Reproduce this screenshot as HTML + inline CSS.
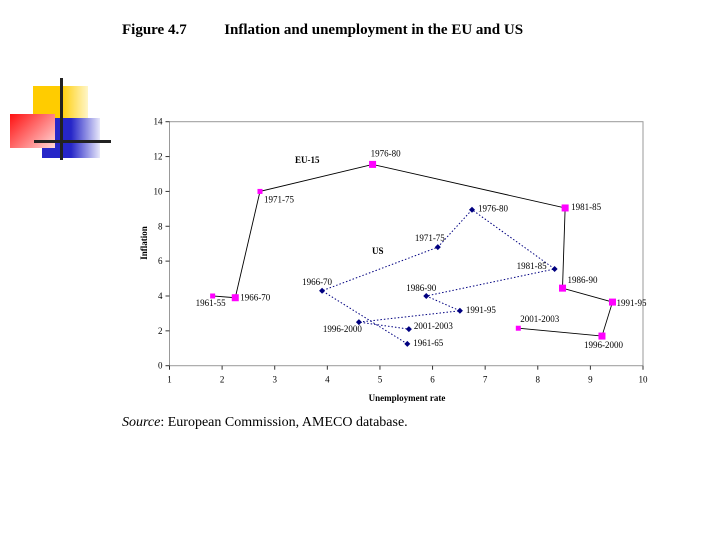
<!DOCTYPE html>
<html><head><meta charset="utf-8"><style>
html,body{margin:0;padding:0;background:#fff;width:720px;height:540px;overflow:hidden}
.t{position:absolute;font-family:"Liberation Serif",serif;color:#000;white-space:nowrap}
</style></head><body>
<div style="position:absolute;left:0;top:0">
<div style="position:absolute;left:33px;top:86px;width:55px;height:32px;background:linear-gradient(90deg,#ffcc00 50%,#fff6c8)"></div>
<div style="position:absolute;left:42px;top:118px;width:58px;height:40px;background:linear-gradient(90deg,#2626c8 50%,#e8e8fa)"></div>
<div style="position:absolute;left:10px;top:114px;width:45px;height:34px;background:linear-gradient(135deg,#ff1010,#ffd8d8)"></div>
<div style="position:absolute;left:60px;top:78px;width:3px;height:82px;background:#222"></div>
<div style="position:absolute;left:34px;top:140px;width:77px;height:3px;background:#222"></div>
</div>
<div class="t" style="left:122px;top:22px;font-size:15px;font-weight:bold">Figure 4.7&nbsp;&nbsp;&nbsp;&nbsp;&nbsp;&nbsp;&nbsp;&nbsp;&nbsp;&nbsp;Inflation and unemployment in the EU and US</div>
<div class="t" style="left:122px;top:415px;font-size:14px"><i>Source</i>: European Commission, AMECO database.</div>
<svg id="chart" width="720" height="540" style="position:absolute;left:0;top:0" font-family="Liberation Serif, serif"></svg>
<script>
const xTicks=[1,2,3,4,5,6,7,8,9,10];
const yTicks=[0,2,4,6,8,10,12,14];
const periods=["1961-65","1966-70","1971-75","1976-80","1981-85","1986-90","1991-95","1996-2000","2001-2003"];
const euLabels=["1961-55","1966-70","1971-75","1976-80","1981-85","1986-90","1991-95","1996-2000","2001-2003"];
const euUnemp=[1.82,2.25,2.72,4.86,8.52,8.47,9.42,9.22,7.63];
const euInfl=[4.0,3.9,10.0,11.55,9.05,4.45,3.65,1.7,2.15];
const usLabels=["1961-65","1966-70","1971-75","1976-80","1981-85","1986-90","1991-95","1996-2000","2001-2003"];
const usUnemp=[5.52,3.9,6.1,6.75,8.32,5.88,6.52,4.6,5.55];
const usInfl=[1.25,4.3,6.8,8.95,5.55,4.0,3.15,2.5,2.1];
const euOff=[[-17,10],[5,3],[4,11],[-2,-8],[6,2],[5,-5],[4,4],[-18,12],[2,-6]];
const usOff=[[6,2],[-20,-6],[-23,-6],[6,2],[-38,0],[-20,-5],[6,2],[-36,10],[5,0]];
const X0=169.5,X1=643,Y0=365.7,Y1=121.7;
const sx=v=>X0+(v-1)*(X1-X0)/9, sy=v=>Y0-v*(Y0-Y1)/14;
const svg=document.getElementById('chart'),NS='http://www.w3.org/2000/svg';
function mk(tag,a,txt){const e=document.createElementNS(NS,tag);for(const k in a)e.setAttribute(k,a[k]);if(txt!==undefined)e.textContent=txt;svg.appendChild(e);return e;}
let e=mk('rect',{x:X0,y:Y1,width:X1-X0,height:Y0-Y1,fill:'none',stroke:'#999','stroke-width':1});


xTicks.forEach(v=>{
 let l=mk('line',{x1:sx(v),x2:sx(v),y1:Y0,y2:Y0+4,stroke:'#333'});
 
 
 let t=mk('text',{x:sx(v),y:Y0+17,'font-size':9,'text-anchor':'middle'},v);
 
 
});
yTicks.forEach(v=>{
 let l=mk('line',{x1:X0-4,x2:X0,y1:sy(v),y2:sy(v),stroke:'#333'});
 
 
 let t=mk('text',{x:X0-7,y:sy(v)+3,'font-size':9,'text-anchor':'end'},v);
 
 
});
e=mk('text',{x:407,y:401,'font-size':9,'font-weight':'bold','text-anchor':'middle'},'Unemployment rate');


e=mk('text',{x:0,y:0,'font-size':9,'font-weight':'bold','text-anchor':'middle',transform:'translate(147,243) rotate(-90)'},'Inflation');


// EU series
e=mk('polyline',{points:euUnemp.map((v,i)=>sx(v)+','+sy(euInfl[i])).join(' '),fill:'none',stroke:'#000','stroke-width':0.9});


euUnemp.forEach((v,i)=>{
 const s=(i===0||i===2||i===8)?5:7;
 let m=mk('rect',{x:sx(v)-s/2,y:sy(euInfl[i])-s/2,width:s,height:s,fill:'#ff00ff'});
 
 
 let t=mk('text',{x:sx(v)+euOff[i][0],y:sy(euInfl[i])+euOff[i][1],'font-size':9},euLabels[i]);
 
 
});
// US series
e=mk('polyline',{points:usUnemp.map((v,i)=>sx(v)+','+sy(usInfl[i])).join(' '),fill:'none',stroke:'#000080','stroke-width':1,'stroke-dasharray':'1.5,2'});


usUnemp.forEach((v,i)=>{
 const x=sx(v),y=sy(usInfl[i]),s=3;
 let m=mk('polygon',{points:`${x},${y-s} ${x+s},${y} ${x},${y+s} ${x-s},${y}`,fill:'#000080'});
 
 
 let t=mk('text',{x:x+usOff[i][0],y:y+usOff[i][1],'font-size':9},usLabels[i]);
 
 
});
e=mk('text',{x:295,y:163,'font-size':9,'font-weight':'bold'},'EU-15');


e=mk('text',{x:372,y:254,'font-size':9,'font-weight':'bold'},'US');


</script>
</body></html>
